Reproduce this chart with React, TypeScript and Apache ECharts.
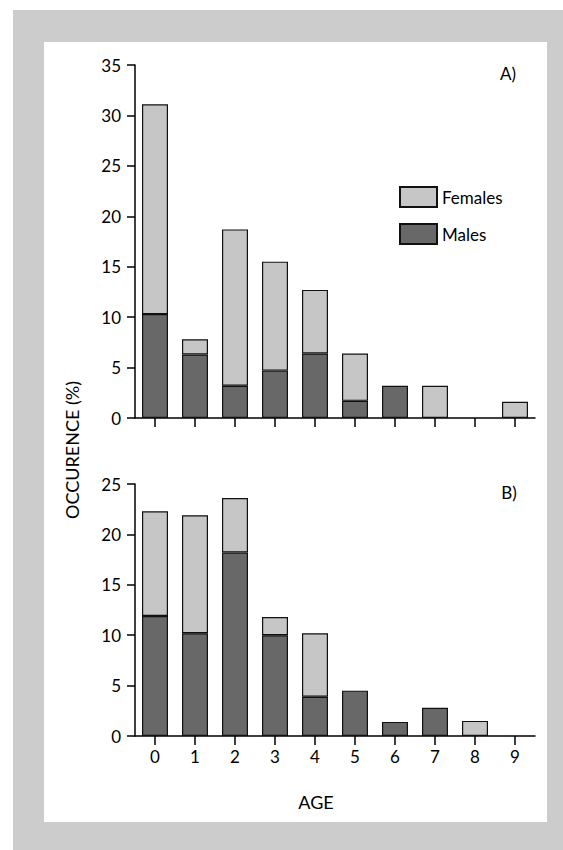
import React, { useEffect, useRef } from "react";
import * as echarts from "echarts";

const categories = ["0", "1", "2", "3", "4", "5", "6", "7", "8", "9"];
const malesA = [10.3, 6.3, 3.2, 4.7, 6.4, 1.7, 3.2, null, null, null];
const femalesA = [20.8, 1.5, 15.5, 10.8, 6.3, 4.7, null, 3.2, null, 1.6];
const malesB = [11.9, 10.2, 18.2, 10.0, 3.9, 4.5, 1.4, 2.8, null, null];
const femalesB = [10.4, 11.7, 5.4, 1.8, 6.3, null, null, null, 1.5, null];
const yTicksA = { min: 0, max: 35, interval: 5 };
const yTicksB = { min: 0, max: 25, interval: 5 };

const FONT = "Lato";
const MALE = "#686868";
const FEMALE = "#c6c6c6";
const INK = "#000000";

export default function App() {
  const ref = useRef<HTMLDivElement>(null);
  useEffect(() => {
    if (!ref.current) return;
    const chart = echarts.init(ref.current, undefined, { renderer: "svg" });
    const yAxisBase = {
      type: "value",
      axisLine: { show: true, lineStyle: { color: INK, width: 1.5 } },
      axisTick: { show: true, length: 8, lineStyle: { color: INK, width: 1.5 } },
      axisLabel: { color: INK, fontFamily: FONT, fontSize: 17, margin: 14 },
      splitLine: { show: false },
    };
    const xAxisBase = {
      type: "category",
      data: categories,
      boundaryGap: true,
      axisLine: { show: true, onZero: false, lineStyle: { color: INK, width: 1.5 } },
      axisTick: { show: true, alignWithLabel: true, length: 9, lineStyle: { color: INK, width: 1.5 } },
    };
    const barStyle = (c: string) => ({ color: c, borderColor: "#111111", borderWidth: 1.2 });
    chart.setOption({
      animation: false,
      graphic: [
        { type: "rect", z: -10, shape: { x: 13, y: 10, width: 550, height: 840 }, style: { fill: "#cccccc" } },
        { type: "rect", z: -9, shape: { x: 44, y: 42, width: 503, height: 780 }, style: { fill: "#ffffff" } },
        { type: "text", x: 508, y: 73, style: { text: "A)", font: `17px ${FONT}`, fill: INK, textAlign: "center", textVerticalAlign: "middle" } },
        { type: "text", x: 509, y: 492, style: { text: "B)", font: `17px ${FONT}`, fill: INK, textAlign: "center", textVerticalAlign: "middle" } },
        { type: "text", x: 72, y: 450, rotation: Math.PI / 2, style: { text: "OCCURENCE (%)", font: `18px ${FONT}`, fill: INK, textAlign: "center", textVerticalAlign: "middle" } },
        { type: "text", x: 316, y: 802, style: { text: "AGE", font: `18px ${FONT}`, fill: INK, textAlign: "center", textVerticalAlign: "middle" } },
      ],
      legend: {
        data: ["Females", "Males"],
        orient: "vertical",
        left: 394,
        top: 181,
        itemWidth: 37,
        itemHeight: 20,
        itemGap: 15,
        icon: "rect",
        textStyle: { color: INK, fontFamily: FONT, fontSize: 17 },
      },
      grid: [
        { left: 135, top: 65, width: 400, height: 353 },
        { left: 135, top: 484, width: 400, height: 252 },
      ],
      xAxis: [
        { ...xAxisBase, gridIndex: 0, axisLabel: { show: false } },
        { ...xAxisBase, gridIndex: 1, axisLabel: { show: true, color: INK, fontFamily: FONT, fontSize: 17, margin: 12 } },
      ],
      yAxis: [
        { ...yAxisBase, gridIndex: 0, ...yTicksA },
        { ...yAxisBase, gridIndex: 1, ...yTicksB },
      ],
      series: [
        { name: "Males", type: "bar", stack: "a", xAxisIndex: 0, yAxisIndex: 0, barWidth: 26, data: malesA, itemStyle: barStyle(MALE) },
        { name: "Females", type: "bar", stack: "a", xAxisIndex: 0, yAxisIndex: 0, barWidth: 26, data: femalesA, itemStyle: barStyle(FEMALE) },
        { name: "Males", type: "bar", stack: "b", xAxisIndex: 1, yAxisIndex: 1, barWidth: 26, data: malesB, itemStyle: barStyle(MALE) },
        { name: "Females", type: "bar", stack: "b", xAxisIndex: 1, yAxisIndex: 1, barWidth: 26, data: femalesB, itemStyle: barStyle(FEMALE) },
      ],
    });
    return () => chart.dispose();
  }, []);
  return <div ref={ref} style={{ position: "absolute", left: 0, top: 0, width: 563, height: 850 }} />;
}
